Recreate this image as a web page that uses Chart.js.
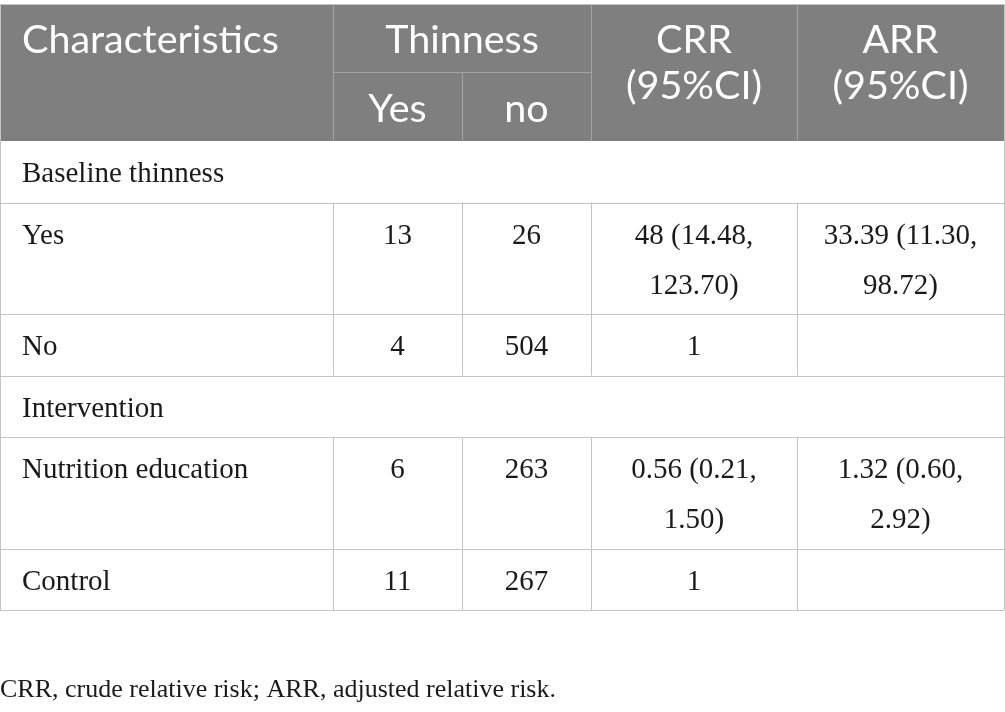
<!DOCTYPE html>
<html lang="en">
<head>
  <meta charset="UTF-8" />
  <title>Thinness relative risk table</title>
  <script src="https://cdn.jsdelivr.net/npm/chart.js"></script>
  <style>
    body {
      margin: 0;
      background: #ffffff;
    }
    #table {
      display: block;
    }
  </style>
</head>
<body>
  <canvas id="table" width="1005" height="712"></canvas>

  <script>
    // table content
    const headTop = ["Characteristics", "Thinness", "CRR (95%CI)", "ARR (95%CI)"];
    const headSub = ["Yes", "no"];
    const rowLabels = ["Baseline thinness", "Yes", "No", "Intervention", "Nutrition education", "Control"];
    const groupRows = [true, false, false, true, false, false];
    const thinYes = [null, 13, 4, null, 6, 11];
    const thinNo = [null, 26, 504, null, 263, 267];
    const crr = ["", "48 (14.48, 123.70)", "1", "", "0.56 (0.21, 1.50)", "1"];
    const arr = ["", "33.39 (11.30, 98.72)", "", "", "1.32 (0.60, 2.92)", ""];
    const footnote = "CRR, crude relative risk; ARR, adjusted relative risk.";

    // layout (in scale units, 1 unit = 1 px)
    const colEdges = [0, 333, 462, 591, 797, 1004];
    const tableTop = 4;
    const headSplit = 72;
    const headBottom = 141;
    const lineH = 50;
    const rowPad = 11.5;
    const cellPadX = 22;

    const headFont = "39.5px Lato";
    const bodyFont = "29px 'Liberation Serif'";
    const footFont = "26px 'Liberation Serif'";
    const headBg = "#7f7f7f";
    const headLine = "#a3a3a3";
    const gridLine = "#c4c4c4";
    const textColor = "#1a1a1a";

    function wrap(ctx, text, maxW) {
      const words = String(text).split(" ");
      const lines = [];
      let cur = "";
      words.forEach(w => {
        const test = cur ? cur + " " + w : w;
        if (ctx.measureText(test).width > maxW && cur) {
          lines.push(cur);
          cur = w;
        } else {
          cur = test;
        }
      });
      if (cur) lines.push(cur);
      return lines;
    }

    const tablePlugin = {
      id: "tablePlugin",
      afterDraw(chart) {
        const ctx = chart.ctx;
        const x = chart.scales.x;
        const y = chart.scales.y;
        const px = v => x.getPixelForValue(v);
        const py = v => y.getPixelForValue(v);

        const hline = (x0, x1, yy, color) => {
          ctx.strokeStyle = color;
          ctx.beginPath();
          ctx.moveTo(px(x0), Math.round(py(yy)) + 0.5);
          ctx.lineTo(px(x1), Math.round(py(yy)) + 0.5);
          ctx.stroke();
        };
        const vline = (xx, y0, y1, color) => {
          ctx.strokeStyle = color;
          ctx.beginPath();
          ctx.moveTo(Math.round(px(xx)) + 0.5, py(y0));
          ctx.lineTo(Math.round(px(xx)) + 0.5, py(y1));
          ctx.stroke();
        };

        ctx.save();
        ctx.lineWidth = 1;

        // header
        ctx.fillStyle = headBg;
        ctx.fillRect(px(colEdges[0]), py(tableTop), px(colEdges[5]) - px(colEdges[0]), py(headBottom) - py(tableTop));

        ctx.font = headFont;
        ctx.fillStyle = "#ffffff";
        ctx.textBaseline = "middle";
        ctx.textAlign = "left";
        ctx.fillText(headTop[0], px(colEdges[0] + cellPadX), py(40));
        ctx.textAlign = "center";
        ctx.fillText(headTop[1], (px(colEdges[1]) + px(colEdges[3])) / 2, py(40));
        for (let i = 0; i < 2; i++) {
          const cx = (px(colEdges[1 + i]) + px(colEdges[2 + i])) / 2;
          ctx.fillText(headSub[i], cx, py(109));
        }
        [2, 3].forEach(i => {
          const cx = (px(colEdges[i + 1]) + px(colEdges[i + 2])) / 2;
          const parts = headTop[i].split(" ");
          ctx.fillText(parts[0], cx, py(40));
          ctx.fillText(parts[1], cx, py(86));
        });

        hline(colEdges[1], colEdges[3], headSplit, headLine);
        vline(colEdges[1], tableTop, headBottom, headLine);
        vline(colEdges[2], headSplit, headBottom, headLine);
        vline(colEdges[3], tableTop, headBottom, headLine);
        vline(colEdges[4], tableTop, headBottom, headLine);

        // body
        ctx.font = bodyFont;
        ctx.fillStyle = textColor;
        let top = headBottom;
        rowLabels.forEach((label, r) => {
          let cells;
          if (groupRows[r]) {
            cells = [[label]];
          } else {
            const vals = [label, thinYes[r], thinNo[r], crr[r], arr[r]];
            cells = vals.map((v, c) => {
              if (v === null || v === "") return [];
              const w = colEdges[c + 1] - colEdges[c] - 2 * cellPadX;
              return wrap(ctx, v, w);
            });
          }
          const nLines = Math.max(1, ...cells.map(c => c.length));
          const h = nLines * lineH + rowPad;

          cells.forEach((lines, c) => {
            lines.forEach((ln, i) => {
              const yy = py(top + rowPad / 2 + lineH * (i + 0.5) + 3);
              if (c === 0) {
                ctx.textAlign = "left";
                ctx.fillText(ln, px(colEdges[0] + cellPadX), yy);
              } else {
                ctx.textAlign = "center";
                ctx.fillText(ln, (px(colEdges[c]) + px(colEdges[c + 1])) / 2, yy);
              }
            });
          });

          if (!groupRows[r]) {
            for (let c = 1; c < 5; c++) vline(colEdges[c], top, top + h, gridLine);
          }
          top += h;
          hline(colEdges[0], colEdges[5], top, gridLine);
        });

        // outer border
        vline(colEdges[0], tableTop, top, gridLine);
        vline(colEdges[5], tableTop, top, gridLine);
        hline(colEdges[0], colEdges[5], tableTop, gridLine);

        // footnote
        ctx.font = footFont;
        ctx.textAlign = "left";
        ctx.fillStyle = textColor;
        ctx.fillText(footnote, px(0), py(690));

        ctx.restore();
      }
    };

    new Chart(document.getElementById("table"), {
      type: "scatter",
      data: { datasets: [{ data: [] }] },
      options: {
        responsive: false,
        animation: false,
        devicePixelRatio: 1,
        layout: { padding: 0 },
        plugins: { legend: { display: false }, tooltip: { enabled: false } },
        scales: {
          x: { type: "linear", min: 0, max: 1005, display: false },
          y: { type: "linear", min: 0, max: 712, reverse: true, display: false }
        }
      },
      plugins: [tablePlugin]
    });
  </script>
</body>
</html>
